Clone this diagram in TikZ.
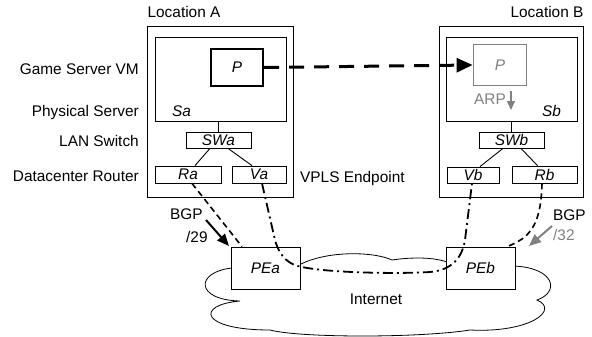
\documentclass[tikz,border=0pt]{standalone}
\usepackage{fontspec}
\setmainfont{Liberation Sans}
\usetikzlibrary{arrows.meta}
\definecolor{arpgray}{gray}{0.5}
\tikzset{>=stealth,
  box/.style={draw, line width=0.8pt, fill=white, inner sep=0pt, font=\itshape},
  lbl/.style={inner sep=0pt},
  wire/.style={line width=0.9pt},
  ipdash/.style={line width=1.6pt, dash pattern=on 6pt off 4pt},
  vpls/.style={line width=1.8pt, dash pattern=on 10pt off 4pt on 2pt off 4pt},
  bgp/.style={line width=2pt, -{Triangle[length=12pt,width=10pt]}}}
\begin{document}
\fontsize{15.4}{18.5}\selectfont
\begin{tikzpicture}[x=1pt, y=-1pt]
    \useasboundingbox (0,0) rectangle (592,337);
    \draw[line width=0.8pt, fill=white] (301,264) .. controls (330,250) and (375,252) .. (392,260)
        .. controls (405,258) and (430,256) .. (447,262) -- (514,266)
        .. controls (555,268) and (560,292) .. (537,300) .. controls (560,310) and (530,333) .. (470,330)
        .. controls (420,338) and (300,338) .. (270,330) .. controls (200,330) and (195,305) .. (240,301)
        .. controls (195,300) and (195,272) .. (232,268) -- cycle;
    \node[lbl] (internet) at (376,299) {Internet};

    \node[box, minimum width=146pt, minimum height=171pt] (LocA) at (220,111.5) {};
    \node[box, minimum width=131pt, minimum height=84pt] (Sa) at (220.5,79) {};
    \node[box, line width=2.4pt, minimum width=52pt, minimum height=37pt] (Pa) at (237,67.5) {P};
    \node[lbl, anchor=base west, font=\itshape] (Salbl) at (172,117) {Sa};
    \node[box, minimum width=65pt, minimum height=16pt] (SWa) at (218.5,140) {SWa};
    \node[box, minimum width=66pt, minimum height=17pt] (Ra) at (188,174.5) {Ra};
    \node[box, minimum width=54pt, minimum height=17pt] (Va) at (259,174.5) {Va};

    \node[box, minimum width=144pt, minimum height=171pt] (LocB) at (511,111.5) {};
    \node[box, minimum width=131pt, minimum height=84pt] (Sb) at (511.5,79) {};
    \node[box, draw=arpgray, text=arpgray, line width=1.8pt, minimum width=53pt, minimum height=41pt] (Pb) at (500,65) {P};
    \node[lbl, anchor=base west, font=\itshape] (Sblbl) at (542,117) {Sb};
    \node[box, minimum width=65pt, minimum height=16pt] (SWb) at (511.5,140) {SWb};
    \node[box, minimum width=52pt, minimum height=16pt] (Vb) at (473,175) {Vb};
    \node[box, minimum width=65pt, minimum height=17pt] (Rb) at (544.5,174.5) {Rb};

    \node[box, minimum width=69pt, minimum height=42pt] (PEa) at (265.5,268) {PEa};
    \node[box, minimum width=69pt, minimum height=42pt] (PEb) at (480.5,268) {PEb};

    \node[lbl, anchor=base] (locAlbl) at (184,18) {Location A};
    \node[lbl, anchor=base] (locBlbl) at (547,18) {Location B};
    \node[lbl, anchor=base east] (vmlbl) at (139,75) {Game Server VM};
    \node[lbl, anchor=base east] (srvlbl) at (139,117) {Physical Server};
    \node[lbl, anchor=base east] (swlbl) at (139,146) {LAN Switch};
    \node[lbl, anchor=base east] (rtlbl) at (139,181) {Datacenter Router};
    \node[lbl, anchor=base west] (vplslbl) at (300,182) {VPLS Endpoint};
    \node[lbl, anchor=base east, text=arpgray] (arplbl) at (506,105) {ARP};
    \node[lbl, anchor=base west] (bgpAlbl) at (170,219) {BGP};
    \node[lbl, anchor=base west] (pfxA) at (186,242) {/29};
    \node[lbl, anchor=base west] (bgpBlbl) at (553,220) {BGP};
    \node[lbl, anchor=base west, text=arpgray] (pfxB) at (553,240) {/32};

    \draw[wire] (SWa.north) -- (SWa.north |- Sa.south);
    \draw[wire] ([xshift=-8.5pt]SWa.south) -- ([xshift=7pt]Ra.north);
    \draw[wire] ([xshift=9.5pt]SWa.south) -- ([xshift=-7pt]Va.north);
    \draw[wire] (SWb.north) -- (SWb.north |- Sb.south);
    \draw[wire] ([xshift=-8.5pt]SWb.south) -- ([xshift=7pt]Vb.north);
    \draw[wire] ([xshift=9.5pt]SWb.south) -- ([xshift=-7pt]Rb.north);

    \draw[line width=3pt, dash pattern=on 15pt off 10pt, -{Triangle[length=16pt,width=14pt]}] (Pa.east) -- (Pb.west);
    \coordinate (arp1) at (511,91);
    \coordinate (arp2) at (511,110);
    \draw[line width=1.5pt, arpgray, -{Triangle[length=9pt,width=8pt]}] (arp1) -- (arp2);

    \draw[ipdash] ([xshift=4pt]Ra.south) -- ([xshift=-23.5pt]PEa.north);
    \draw[ipdash] ([xshift=-2.5pt]Rb.south) .. controls (541,225) and (530,238) .. ([xshift=26.5pt]PEb.north);
    \draw[vpls] ([xshift=3pt]Va.south) -- (275,240) .. controls (280,258) and (290,265) .. (302,267)
        .. controls (330,273) and (400,274) .. (430,272) .. controls (452,270) and (462,258) .. (465,240)
        -- ([xshift=-1pt]Vb.south);

    \coordinate (bgpA1) at (206,220);
    \coordinate (bgpA2) at (229,246);
    \coordinate (bgpB1) at (552,226);
    \coordinate (bgpB2) at (529,246);
    \draw[bgp] (bgpA1) -- (bgpA2);
    \draw[bgp, arpgray] (bgpB1) -- (bgpB2);
\end{tikzpicture}
\end{document}
